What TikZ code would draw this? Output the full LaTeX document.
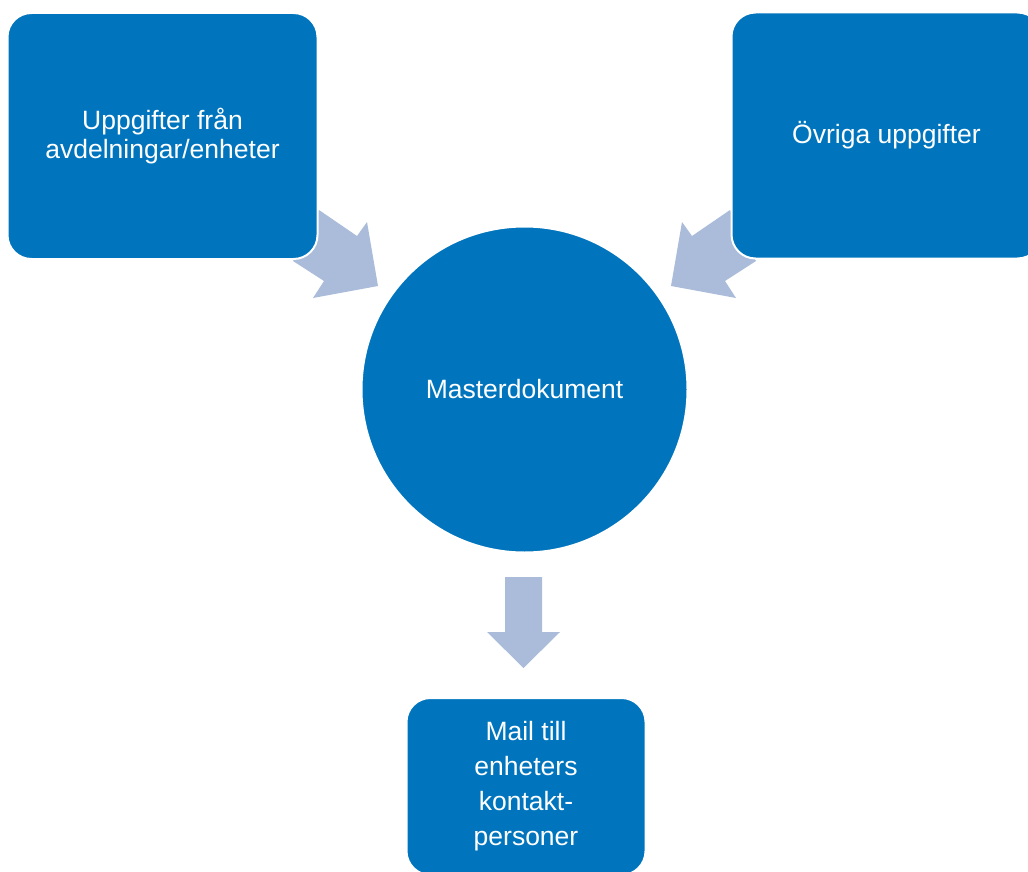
\documentclass[tikz,border=0pt]{standalone}
\usepackage{fontspec}
\setmainfont{Liberation Sans}
\definecolor{boxblue}{RGB}{0,117,189}
\definecolor{arrowblue}{RGB}{170,188,218}
\tikzset{
  bluebox/.style={fill=boxblue, draw=white, line width=2pt, rounded corners=24pt,
    text=white, align=center, font=\fontsize{26.5}{28.5}\selectfont, inner sep=0pt},
  bigcircle/.style={circle, fill=boxblue, draw=white, line width=2pt,
    text=white, font=\fontsize{26.5}{28.5}\selectfont, inner sep=0pt},
  blockarrow/.style={fill=arrowblue, draw=none},
}
\begin{document}
\begin{tikzpicture}[x=1pt,y=-1pt]
\useasboundingbox (0,0) rectangle (1028,872);
% block arrows (drawn first, behind the boxes)
\coordinate (la1) at (319,210);
\coordinate (la2) at (357,236);
\coordinate (la3) at (367,222);
\coordinate (la4) at (378,286);
\coordinate (la5) at (313,298);
\coordinate (la6) at (324,281);
\coordinate (la7) at (293,261);
\fill[blockarrow] (la1) -- (la2) -- (la3) -- (la4) -- (la5) -- (la6) -- (la7) -- cycle;
\coordinate (ra1) at (730,210);
\coordinate (ra2) at (692,236);
\coordinate (ra3) at (682,222);
\coordinate (ra4) at (671,286);
\coordinate (ra5) at (736,298);
\coordinate (ra6) at (725,281);
\coordinate (ra7) at (756,261);
\fill[blockarrow] (ra1) -- (ra2) -- (ra3) -- (ra4) -- (ra5) -- (ra6) -- (ra7) -- cycle;
\coordinate (da1) at (505,577);
\coordinate (da2) at (542,577);
\coordinate (da3) at (542,632);
\coordinate (da4) at (560,632);
\coordinate (da5) at (523.5,668);
\coordinate (da6) at (487,632);
\coordinate (da7) at (505,632);
\fill[blockarrow] (da1) -- (da2) -- (da3) -- (da4) -- (da5) -- (da6) -- (da7) -- cycle;
% boxes
\node[bluebox, minimum width=310pt, minimum height=246pt] (src) at (162.5,136)
  {Uppgifter från\\avdelningar/enheter};
\node[bluebox, minimum width=310pt, minimum height=246pt] (other) at (886.5,135.5)
  {Övriga uppgifter};
\node[bigcircle, minimum size=326pt] (master) at (524.5,389.5) {Masterdokument};
\node[bluebox, minimum width=239pt, minimum height=177pt,
  font=\fontsize{26.5}{35}\selectfont] (mail) at (526,786.5)
  {Mail till\\enheters\\kontakt-\\personer};
\end{tikzpicture}
\end{document}
